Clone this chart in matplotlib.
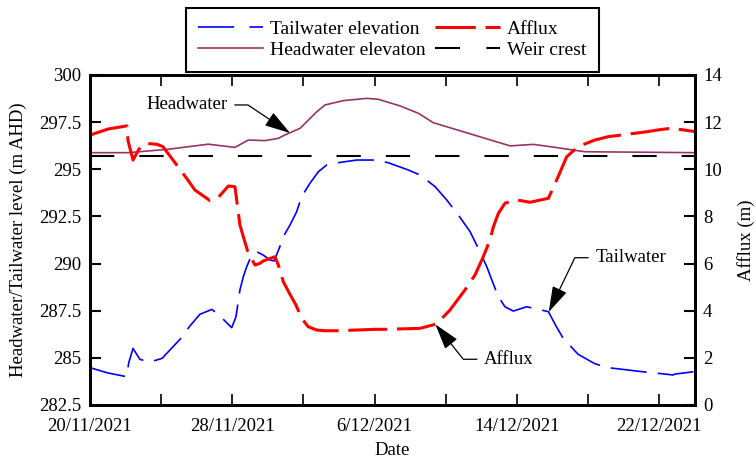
import matplotlib
matplotlib.use('Agg')

import matplotlib.pyplot as plt
import matplotlib.ticker as mticker
import matplotlib.dates as mdates
import numpy as np
import pandas as pd
from matplotlib.lines import Line2D

# ---------------------------
# DATA
# ---------------------------
start = pd.Timestamp('2021-11-20')
end = pd.Timestamp('2021-12-24')

# headwater elevation (m AHD), days since 20/11/2021
hw_days = [0, 2.14, 4.39, 6.65, 8.15, 8.90, 9.84, 10.59, 10.96, 11.81, 12.75, 13.21,
           14.24, 15.56, 16.21, 17.43, 18.46, 19.30, 23.62, 24.93, 25.86, 27.82, 34.0]
hw_level = [295.88, 295.88, 296.06, 296.33, 296.16, 296.55, 296.52, 296.64, 296.82, 297.17,
            298.05, 298.41, 298.64, 298.76, 298.71, 298.36, 297.97, 297.47, 296.24, 296.32,
            296.20, 295.93, 295.88]

# tailwater elevation (m AHD)
tw_days = [0, 1.0, 2.06, 2.18, 2.42, 2.81, 3.37, 4.05, 5.06, 5.62, 6.18, 6.86, 7.50, 7.97,
           8.21, 8.43, 8.62, 8.81, 9.09, 9.37, 9.74, 10.12, 10.35, 10.64, 10.87, 11.25,
           11.62, 11.90, 12.37, 12.84, 13.31, 13.96, 15.0, 16.02, 16.76, 17.90, 18.55,
           19.40, 20.06, 20.84, 21.37, 21.83, 22.31, 22.59, 22.96, 23.33, 23.80, 24.55,
           25.77, 26.20, 26.60, 27.44, 28.38, 29.12, 31.19, 31.94, 32.78, 32.88, 34.0]
tw_level = [284.48, 284.20, 284.00, 284.74, 285.50, 284.92, 284.78, 284.97, 285.98, 286.69,
            287.31, 287.57, 287.04, 286.60, 287.18, 288.60, 289.30, 289.83, 290.45, 290.63,
            290.45, 290.19, 290.14, 290.81, 291.43, 292.05, 292.75, 293.55, 294.26, 294.87,
            295.23, 295.35, 295.49, 295.49, 295.35, 294.96, 294.70, 294.08, 293.37, 292.40,
            291.69, 290.81, 289.83, 289.13, 288.24, 287.71, 287.48, 287.71, 287.45, 286.69,
            286.04, 285.19, 284.69, 284.48, 284.25, 284.18, 284.09, 284.14, 284.27]

# afflux (m)
af_days = [0, 1.03, 2.08, 2.14, 2.42, 2.75, 3.09, 3.77, 4.10, 4.67, 5.43, 5.90, 6.75,
           7.22, 7.78, 8.15, 8.43, 8.62, 8.90, 9.28, 9.56, 9.74, 10.40, 10.59, 10.87,
           11.21, 11.58, 11.90, 12.27, 12.75, 13.21, 13.87, 16.02, 16.57, 18.55, 19.49,
           20.24, 21.08, 21.65, 22.11, 22.49, 22.68, 22.96, 23.33, 23.99, 24.74, 25.77,
           26.24, 26.80, 27.44, 28.38, 29.12, 31.19, 31.94, 32.69, 34.0]
af_val = [11.45, 11.71, 11.84, 11.21, 10.39, 10.85, 11.10, 11.06, 10.96, 10.39, 9.62, 9.12,
          8.67, 8.81, 9.29, 9.26, 7.64, 7.14, 6.44, 5.94, 6.01, 6.11, 6.29, 5.94, 5.23,
          4.74, 4.24, 3.68, 3.32, 3.18, 3.15, 3.15, 3.21, 3.21, 3.25, 3.44, 4.03, 4.88,
          5.52, 6.29, 7.00, 7.56, 8.13, 8.56, 8.70, 8.60, 8.77, 9.55, 10.53, 10.96, 11.24,
          11.38, 11.58, 11.67, 11.74, 11.60]

weir_crest = 295.72


def to_dates(days):
    return start + pd.to_timedelta(np.array(days), unit='D')


hw_t = to_dates(hw_days)
tw_t = to_dates(tw_days)
af_t = to_dates(af_days)

# ---------------------------
# STYLE
# ---------------------------
plt.rcParams['font.family'] = ['Liberation Serif', 'DejaVu Serif']
plt.rcParams['font.size'] = 13.5
plt.rcParams['lines.scale_dashes'] = False

fig = plt.figure(figsize=(7.56, 4.62), dpi=100)
ax = fig.add_axes([0.119, 0.1234, 0.8, 0.7143])
ax2 = ax.twinx()

blue = '#0000ff'
red = '#ff0000'
purple = '#993366'

l_tw, = ax.plot(tw_t, tw_level, color=blue, lw=1.2, dashes=(26, 8))
l_hw, = ax.plot(hw_t, hw_level, color=purple, lw=1.2)
l_wc = ax.axhline(weir_crest, color='black', lw=1.5, dashes=(17.5, 18))
l_af, = ax2.plot(af_t, af_val, color=red, lw=2.2, dashes=(28, 7))

ax.set_xlim(start, end)
ax.set_ylim(282.5, 300)
ax2.set_ylim(0, 14)

ax.yaxis.set_major_locator(mticker.MultipleLocator(2.5))
ax.yaxis.set_major_formatter(mticker.FuncFormatter(lambda v, p: f"{v:g}"))
ax2.yaxis.set_major_locator(mticker.MultipleLocator(2))

ax.xaxis.set_major_locator(mticker.FixedLocator(
    mdates.date2num(pd.date_range(start, end, freq='8D'))))
ax.xaxis.set_minor_locator(mticker.FixedLocator(
    mdates.date2num(pd.date_range(start, end, freq='4D'))))
ax.xaxis.set_major_formatter(mticker.FuncFormatter(
    lambda v, p: f"{mdates.num2date(v).day}/{mdates.num2date(v).month}/{mdates.num2date(v).year}"))

ax.tick_params(axis='x', which='both', direction='in', top=True, length=8, width=1.2, pad=9.5)
ax.tick_params(axis='y', direction='in', right=False, length=8, width=1.5, pad=6)
ax2.tick_params(axis='y', direction='in', length=8, width=1.5, pad=6)

for a in (ax, ax2):
    for s in a.spines.values():
        s.set_linewidth(2)

ax.set_xlabel("Date", labelpad=5)
ax.set_ylabel("Headwater/Tailwater level (m AHD)", labelpad=9)
ax2.set_ylabel("Afflux (m)", labelpad=11)

# ---------------------------
# ANNOTATIONS
# ---------------------------
arrow = '-|>,head_length=0.8,head_width=0.24'
aprops = dict(color='black', lw=0.9, mutation_scale=20, shrinkA=3, shrinkB=0)

ax.annotate("Headwater", xy=(to_dates([11.25])[0], 296.92),
            xytext=(to_dates([7.75])[0], 298.41), ha='right', va='center',
            arrowprops=dict(arrowstyle=arrow,
                            connectionstyle='angle,angleA=0,angleB=146.3,rad=0', **aprops))

ax.annotate("Tailwater", xy=(to_dates([25.79])[0], 287.43),
            xytext=(to_dates([28.40])[0], 290.31), ha='left', va='center',
            arrowprops=dict(arrowstyle=arrow,
                            connectionstyle='angle,angleA=0,angleB=64.3,rad=0', **aprops))

ax2.annotate("Afflux", xy=(to_dates([19.42])[0], 3.42),
             xytext=(to_dates([22.15])[0], 1.94), ha='left', va='center',
             arrowprops=dict(arrowstyle=arrow,
                             connectionstyle='angle,angleA=0,angleB=-51.3,rad=0', **aprops))

# ---------------------------
# LEGEND
# ---------------------------
handles = [
    Line2D([], [], color=blue, lw=1.2, dashes=(26, 11)),
    Line2D([], [], color=purple, lw=1.2),
    Line2D([], [], color=red, lw=2.2, dashes=(29, 7)),
    Line2D([], [], color='black', lw=1.5, dashes=(18, 19)),
]
labels = ["Tailwater elevation", "Headwater elevaton", "Afflux", "Weir crest"]
leg = ax2.legend(handles, labels, ncol=2, loc='upper center',
                 bbox_to_anchor=(0.519, 0.983), bbox_transform=fig.transFigure,
                 fancybox=False, framealpha=1, edgecolor='black', fontsize=14,
                 handlelength=3.35, handletextpad=0.36, columnspacing=0.46,
                 borderpad=0.65, labelspacing=0.165, borderaxespad=0)
leg.get_frame().set_linewidth(1.5)
leg.set_zorder(10)

fig.savefig('out.png', dpi=100)
